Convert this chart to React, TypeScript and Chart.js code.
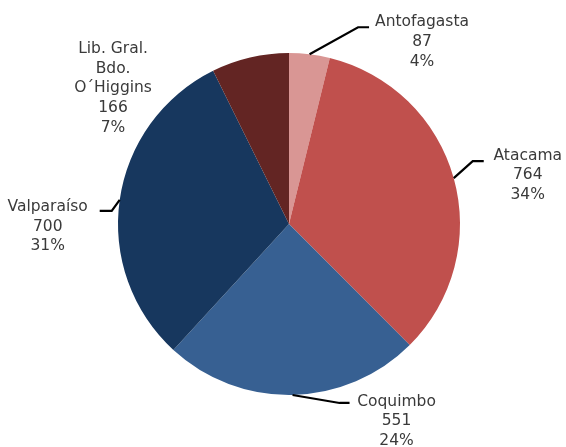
import React, { useEffect, useRef } from "react";
import { Chart, registerables } from "chart.js";

Chart.register(...registerables);

const categories: string[][] = [
  ["Antofagasta"],
  ["Atacama"],
  ["Coquimbo"],
  ["Valparaíso"],
  ["Lib. Gral.", "Bdo.", "O´Higgins"],
];
const values: number[] = [87, 764, 551, 700, 166];
const colors: string[] = ["#D99694", "#C0504D", "#376092", "#17375E", "#632523"];

// label placement relative to the slice's outer mid-point
const labelLayout = [
  { line: [[48.5, -27], [59.5, -27]], tx: 112.5, ty: -32 },
  { line: [[19, -17], [30, -17]], tx: 74, ty: -22.5 },
  { line: [[47, 8], [57, 8]], tx: 104, ty: 6.7 },
  { line: [[-8, 11], [-20, 11]], tx: -72, ty: 7 },
  { line: [], tx: -137, ty: -8.5 },
];

const labelPlugin = {
  id: "pieLabels",
  afterDatasetsDraw(chart: any) {
    const ctx = chart.ctx;
    const meta = chart.getDatasetMeta(0);
    const total = values.reduce((a, b) => a + b, 0);
    ctx.save();
    meta.data.forEach((arc: any, i: number) => {
      const p = arc.getProps(["x", "y", "startAngle", "endAngle", "outerRadius"], true);
      const mid = (p.startAngle + p.endAngle) / 2;
      const ax = p.x + Math.cos(mid) * p.outerRadius;
      const ay = p.y + Math.sin(mid) * p.outerRadius;
      const lay = labelLayout[i];
      if (lay.line.length) {
        ctx.beginPath();
        ctx.strokeStyle = "#000000";
        ctx.lineWidth = 2.2;
        ctx.moveTo(ax, ay);
        lay.line.forEach((pt: number[]) => ctx.lineTo(ax + pt[0], ay + pt[1]));
        ctx.stroke();
      }
      const lines = [
        ...categories[i],
        String(values[i]),
        Math.round((values[i] / total) * 100) + "%",
      ];
      ctx.fillStyle = "#3a3a3a";
      ctx.font = '15.5px "DejaVu Sans"';
      ctx.textAlign = "center";
      ctx.textBaseline = "middle";
      lines.forEach((t, k) => {
        ctx.fillText(t, ax + lay.tx, ay + lay.ty + k * 19.7);
      });
    });
    ctx.restore();
  },
};

export default function App() {
  const ref = useRef<HTMLCanvasElement>(null);
  useEffect(() => {
    document.body.style.margin = "0";
    const chart = new Chart(ref.current!, {
      type: "pie",
      data: {
        labels: categories.map((c) => c.join(" ")),
        datasets: [
          {
            data: values,
            backgroundColor: colors,
            borderWidth: 0,
          },
        ],
      },
      options: {
        responsive: false,
        animation: false,
        layout: { padding: { top: 53, bottom: 52, left: 12, right: 0 } },
        plugins: {
          legend: { display: false },
          tooltip: { enabled: false },
        },
      },
      plugins: [labelPlugin],
    });
    return () => chart.destroy();
  }, []);
  return (
    <div style={{ position: "absolute", left: 0, top: 0, width: 566, height: 447, background: "#ffffff" }}>
      <canvas ref={ref} width={566} height={447} />
    </div>
  );
}
